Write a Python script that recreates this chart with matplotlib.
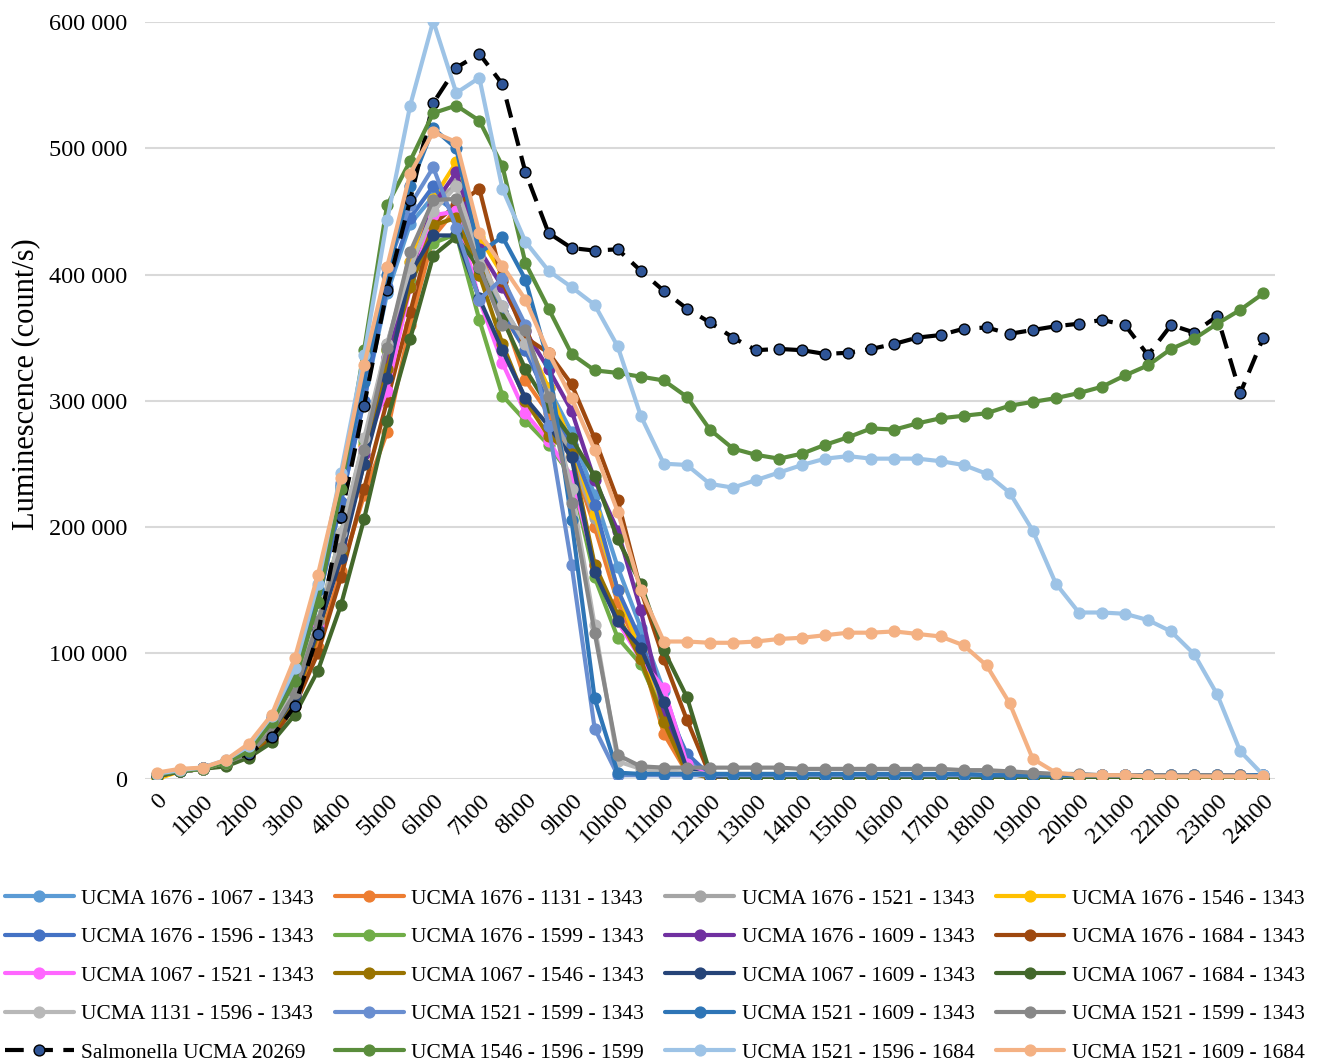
import matplotlib
matplotlib.use("Agg")
import matplotlib.pyplot as plt
from matplotlib.ticker import FuncFormatter, FixedLocator

plt.rcParams['font.family'] = ['Liberation Serif', 'DejaVu Serif']

# Half-hour sampling, labels every hour
hour_labels = ["0"] + [f"{h}h00" for h in range(1, 25)]

names = [
    "UCMA 1676 - 1067 - 1343", "UCMA 1676 - 1131 - 1343", "UCMA 1676 - 1521 - 1343", "UCMA 1676 - 1546 - 1343",
    "UCMA 1676 - 1596 - 1343", "UCMA 1676 - 1599 - 1343", "UCMA 1676 - 1609 - 1343", "UCMA 1676 - 1684 - 1343",
    "UCMA 1067 - 1521 - 1343", "UCMA 1067 - 1546 - 1343", "UCMA 1067 - 1609 - 1343", "UCMA 1067 - 1684 - 1343",
    "UCMA 1131 - 1596 - 1343", "UCMA 1521 - 1599 - 1343", "UCMA 1521 - 1609 - 1343", "UCMA 1521 - 1599 - 1343",
    "Salmonella UCMA 20269", "UCMA 1546 - 1596 - 1599", "UCMA 1521 - 1596 - 1684", "UCMA 1521 - 1609 - 1684",
]

colors = ["#5B9BD5", "#ED7D31", "#A5A5A5", "#FFC000",
          "#4472C4", "#70AD47", "#7030A0", "#9E480E",
          "#FF66FF", "#997300", "#264478", "#43682B",
          "#B8B8B8", "#698ED0", "#2E75B6", "#878787",
          "#000000", "#5A8D3C", "#9DC3E6", "#F4B183"]

# values in thousands of counts/s, 49 half-hour points (0 .. 24h00)
s1 = [3, 6, 9, 14, 23, 45, 80, 140, 220, 300, 385, 440,
      462, 450, 405, 375, 345, 310, 275, 225, 168, 120, 70, 15,
      3, 3, 3, 3, 3, 3, 3, 3, 3, 3, 3, 3,
      3, 3, 3, 3, 3, 3, 3, 2, 2, 2, 2, 2, 2]
s2 = [3, 6, 8, 12, 19, 35, 60, 105, 165, 225, 275, 360,
      430, 452, 420, 370, 316, 290, 255, 200, 140, 100, 36, 5,
      2, 2, 2, 2, 2, 2, 2, 2, 2, 2, 2, 2,
      2, 2, 2, 2, 2, 2, 2, 2, 2, 2, 2, 2, 2]
s3 = [3, 6, 8, 13, 20, 38, 68, 120, 190, 265, 345, 410,
      455, 472, 410, 370, 340, 300, 255, 207, 150, 100, 50, 10,
      3, 3, 3, 3, 3, 3, 3, 3, 3, 3, 3, 3,
      3, 3, 3, 3, 3, 3, 3, 3, 3, 3, 3, 3, 3]
s4 = [0, 6, 8, 13, 20, 38, 68, 120, 190, 265, 340, 410,
      460, 489, 430, 400, 350, 310, 265, 210, 150, 100, 45, 8,
      1, 1, 1, 1, 1, 1, 1, 1, 1, 1, 1, 1,
      1, 1, 1, 1, 1, 1, 1, 1, 1, 1, 1, 1, 1]
s5 = [3, 6, 9, 14, 23, 45, 78, 140, 220, 300, 390, 445,
      470, 445, 400, 370, 340, 300, 265, 217, 150, 110, 60, 20,
      3, 3, 3, 3, 3, 3, 3, 3, 3, 3, 3, 3,
      3, 3, 3, 3, 3, 3, 3, 3, 3, 3, 3, 3, 3]
s6 = [3, 6, 8, 13, 21, 40, 70, 125, 195, 268, 340, 395,
      425, 432, 364, 304, 284, 265, 240, 160, 112, 91, 50, 10,
      2, 2, 2, 2, 2, 2, 2, 2, 2, 2, 2, 2,
      2, 2, 2, 2, 2, 2, 2, 2, 2, 2, 2, 2, 2]
s7 = [3, 6, 8, 13, 20, 38, 66, 118, 185, 258, 335, 400,
      455, 481, 420, 390, 355, 325, 292, 237, 197, 134, 52, 5,
      2, 2, 2, 2, 2, 2, 2, 2, 2, 2, 2, 2,
      2, 2, 2, 2, 2, 2, 2, 2, 2, 2, 2, 2, 2]
s8 = [2, 6, 8, 11, 18, 32, 58, 100, 160, 230, 300, 370,
      440, 455, 468, 395, 350, 338, 313, 270, 221, 150, 95, 47,
      3, 2, 2, 2, 2, 2, 2, 2, 2, 2, 2, 2,
      2, 2, 2, 2, 2, 2, 2, 2, 2, 2, 2, 2, 2]
s9 = [3, 6, 8, 13, 20, 38, 68, 122, 190, 262, 308, 390,
      447, 450, 380, 330, 290, 268, 240, 170, 125, 95, 72, 12,
      2, 2, 2, 2, 2, 2, 2, 2, 2, 2, 2, 2,
      2, 2, 2, 2, 2, 2, 2, 2, 2, 2, 2, 2, 2]
s10 = [2, 6, 8, 12, 19, 36, 64, 115, 180, 250, 325, 390,
       439, 445, 400, 345, 300, 272, 258, 170, 130, 95, 45, 5,
       1, 1, 1, 1, 1, 1, 1, 1, 1, 1, 1, 1,
       1, 1, 1, 1, 1, 1, 1, 1, 1, 1, 1, 1, 1]
s11 = [3, 6, 8, 13, 20, 38, 66, 118, 175, 250, 318, 401,
       431, 431, 381, 340, 302, 280, 255, 164, 125, 104, 61, 8,
       2, 2, 2, 2, 2, 2, 2, 2, 2, 2, 2, 2,
       2, 2, 2, 2, 2, 2, 2, 2, 2, 2, 2, 2, 2]
s12 = [2, 6, 8, 10, 17, 29, 51, 86, 138, 206, 284, 349,
       415, 430, 405, 365, 325, 295, 270, 240, 190, 155, 102, 65,
       5, 1, 1, 1, 1, 1, 1, 1, 1, 1, 1, 1,
       1, 1, 1, 1, 1, 1, 1, 1, 1, 1, 1, 1, 1]
s13 = [3, 6, 8, 13, 21, 40, 70, 125, 195, 270, 345, 405,
       450, 470, 415, 375, 345, 305, 230, 122, 14, 8, 6, 5,
       4, 4, 4, 4, 4, 4, 4, 4, 4, 4, 4, 4,
       4, 4, 4, 3, 3, 3, 3, 3, 3, 3, 3, 3, 3]
s14 = [3, 6, 9, 14, 24, 48, 82, 150, 235, 318, 405, 455,
       485, 437, 380, 397, 360, 280, 170, 40, 3, 3, 3, 3,
       3, 3, 3, 3, 3, 3, 3, 3, 3, 3, 3, 3,
       3, 3, 3, 3, 3, 3, 3, 3, 3, 3, 3, 3, 3]
s15 = [3, 6, 9, 14, 24, 48, 85, 150, 232, 315, 400, 470,
       516, 500, 417, 430, 396, 330, 205, 64, 5, 4, 4, 4,
       4, 4, 4, 4, 4, 4, 4, 4, 4, 4, 4, 4,
       3, 3, 3, 3, 3, 3, 3, 3, 3, 3, 3, 3, 3]
s16 = [3, 6, 8, 13, 20, 38, 68, 125, 183, 261, 342, 418,
       459, 460, 406, 360, 356, 303, 219, 116, 19, 10, 9, 9,
       9, 9, 9, 9, 8, 8, 8, 8, 8, 8, 8, 7,
       7, 6, 5, 4, 4, 3, 3, 3, 3, 3, 3, 3, 2]
s17 = [3, 6, 9, 14, 20, 33, 58, 115, 208, 296, 388, 459,
       536, 564, 575, 551, 481, 433, 421, 419, 420, 403, 387, 373,
       362, 350, 340, 341, 340, 337, 338, 341, 345, 350, 352, 357,
       358, 353, 356, 359, 361, 364, 360, 336, 360, 354, 367, 306, 350]
s18 = [3, 6, 8, 13, 22, 45, 78, 140, 230, 340, 455, 490,
       528, 534, 522, 486, 409, 373, 337, 324, 322, 319, 316, 303,
       277, 262, 257, 254, 258, 265, 271, 278, 277, 282, 286, 288,
       290, 296, 299, 302, 306, 311, 320, 328, 341, 349, 361, 372, 385]
s19 = [4, 7, 9, 15, 26, 50, 88, 155, 243, 336, 443, 534,
       601, 544, 556, 468, 426, 403, 390, 376, 343, 288, 250, 249,
       234, 231, 237, 243, 249, 254, 256, 254, 254, 254, 252, 249,
       242, 227, 197, 155, 132, 132, 131, 126, 117, 99, 67, 22, 3]
s20 = [5, 8, 9, 15, 28, 51, 96, 162, 239, 328, 406, 480,
       513, 505, 433, 407, 380, 338, 302, 261, 212, 150, 109, 109,
       108, 108, 109, 111, 112, 114, 116, 116, 117, 115, 113, 106,
       90, 60, 16, 5, 3, 3, 3, 2, 2, 2, 2, 2, 2]

series = [s1, s2, s3, s4, s5, s6, s7, s8, s9, s10, s11, s12,
          s13, s14, s15, s16, s17, s18, s19, s20]

fig = plt.figure(figsize=(13.23, 10.62), dpi=100)
ax = fig.add_axes([0.1096, 0.2665, 0.854, 0.7125])

x = list(range(49))
handles = []
for k, (name, vals, col) in enumerate(zip(names, series, colors)):
    yv = [v * 1000 for v in vals]
    if name.startswith("Salmonella"):
        h, = ax.plot(x, yv, color="black", lw=3.0, dashes=(4.5, 2.5),
                     marker="o", ms=7.8, mfc="#2F5597", mec="black", mew=1.0,
                     label=name, zorder=10 + k)
    else:
        h, = ax.plot(x, yv, color=col, lw=3.0, marker="o", ms=7.8,
                     mfc=col, mec=col, label=name, zorder=10 + k,
                     solid_capstyle="round", solid_joinstyle="round")
    handles.append(h)

ax.set_xlim(-0.5, 48.5)
ax.set_ylim(0, 600000)
ax.yaxis.set_major_locator(FixedLocator([0, 100000, 200000, 300000, 400000, 500000, 600000]))
ax.yaxis.set_major_formatter(FuncFormatter(lambda v, p: f"{int(v):,}".replace(",", " ")))
ax.set_xticks(list(range(0, 49, 2)))
ax.set_xticklabels(hour_labels, rotation=45, ha="right", rotation_mode="anchor")
ax.tick_params(axis="both", length=0, labelsize=17.5)
ax.tick_params(axis="x", pad=8)
ax.tick_params(axis="y", pad=13)
ax.grid(axis="y", color="#D9D9D9", lw=1.5)
ax.set_axisbelow(True)
for sp in ax.spines.values():
    sp.set_visible(False)
ax.set_ylabel("Luminescence (count/s)", fontsize=22)
ax.yaxis.set_label_coords(-0.093, 0.522)

# legend shown row by row (4 columns)
order = [r * 4 + c for c in range(4) for r in range(5)]
leg = fig.legend([handles[i] for i in order], [names[i] for i in order],
                 loc="upper center", bbox_to_anchor=(0.495, 0.1815), ncol=4,
                 frameon=False, fontsize=15.5, handlelength=3.2,
                 handletextpad=0.35, columnspacing=0.97, labelspacing=0.86)

fig.savefig("out.png", dpi=100)
